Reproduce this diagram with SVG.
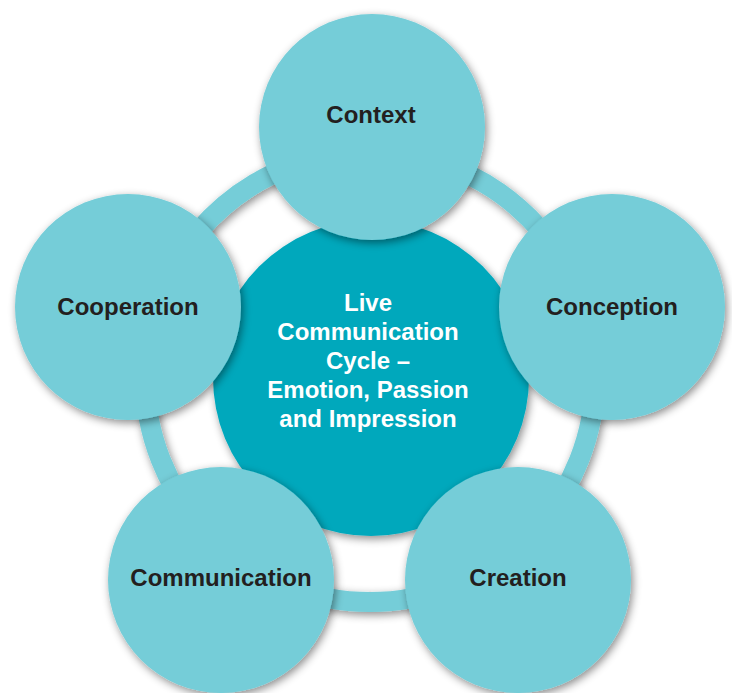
<svg xmlns="http://www.w3.org/2000/svg" width="732" height="693" viewBox="0 0 732 693">
<defs>
<filter id="sh" x="-20%" y="-20%" width="140%" height="140%">
<feDropShadow dx="2" dy="3" stdDeviation="4" flood-color="#000" flood-opacity="0.45"/>
</filter>
<style>
.outer{fill:#74CDD8;filter:url(#sh)}
.ring{fill:none;stroke:#74CDD8;stroke-width:20;filter:url(#sh)}
.core{fill:#00A8BC;filter:url(#sh)}
.lbl{font-family:"Liberation Sans",Arial,sans-serif;font-weight:bold;font-size:24px;fill:#231F20;text-anchor:middle}
.ctr{font-family:"Liberation Sans",Arial,sans-serif;font-weight:bold;font-size:24px;fill:#FFFFFF;text-anchor:middle}
</style>
</defs>
<rect width="732" height="693" fill="#FFFFFF"/>
<g id="connectors">
<circle class="ring" cx="370" cy="377" r="225"/>
</g>
<g id="center">
<circle class="core" cx="371" cy="378" r="158"/>
<text class="ctr" x="368" y="311">Live</text>
<text class="ctr" x="368" y="340">Communication</text>
<text class="ctr" x="368" y="369">Cycle –</text>
<text class="ctr" x="368" y="398">Emotion, Passion</text>
<text class="ctr" x="368" y="427">and Impression</text>
</g>
<g id="context">
<circle class="outer" cx="372" cy="127" r="113"/>
<text class="lbl" x="371" y="123">Context</text>
</g>
<g id="cooperation">
<circle class="outer" cx="128" cy="307" r="113"/>
<text class="lbl" x="128" y="315">Cooperation</text>
</g>
<g id="conception">
<circle class="outer" cx="612" cy="307" r="113"/>
<text class="lbl" x="612" y="315">Conception</text>
</g>
<g id="communication">
<circle class="outer" cx="221" cy="580" r="113"/>
<text class="lbl" x="221" y="586">Communication</text>
</g>
<g id="creation">
<circle class="outer" cx="518" cy="580" r="113"/>
<text class="lbl" x="518" y="586">Creation</text>
</g>
</svg>
